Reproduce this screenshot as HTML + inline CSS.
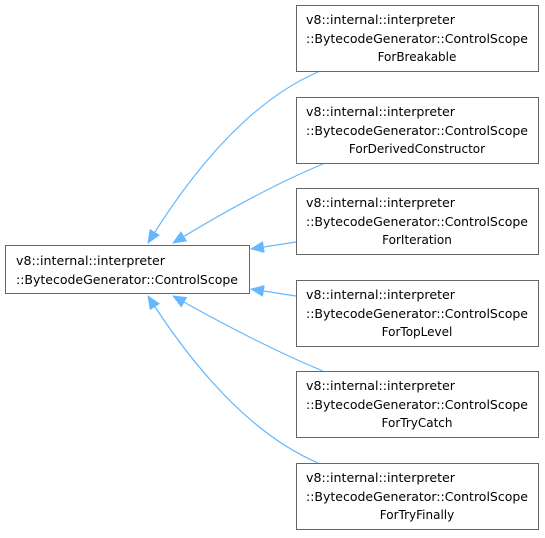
<!DOCTYPE html>
<html><head><meta charset="utf-8"><style>
html,body{margin:0;padding:0;background:#fff;width:545px;height:538px;overflow:hidden}
text{font-family:"DejaVu Sans","Liberation Sans",sans-serif;font-size:12px;fill:#000}
</style></head><body>
<svg width="545" height="538" viewBox="0 0 545 538" xmlns="http://www.w3.org/2000/svg">
<defs>
<marker id="a" markerWidth="14" markerHeight="12" refX="13" refY="6" orient="auto" markerUnits="userSpaceOnUse">
<path d="M0,0 L14,6 L0,12 Z" fill="#63b8ff"/>
</marker>
</defs>
<g fill="none" stroke="#63b8ff" stroke-width="1.2">
<path d="M318,72 Q230,110 148,243" marker-end="url(#a)"/>
<path d="M323,164 Q260,190 173,243" marker-end="url(#a)"/>
<path d="M296,242 L251,249" marker-end="url(#a)"/>
<path d="M296,296 L251,289" marker-end="url(#a)"/>
<path d="M323,371 Q260,345 173,296" marker-end="url(#a)"/>
<path d="M318,463 Q230,425 148,296" marker-end="url(#a)"/>
</g>
<g fill="#fff" stroke="#666" stroke-width="1">
<rect x="5.5" y="245.5" width="244" height="48"/>
<rect x="296.5" y="5.5" width="242" height="66"/>
<rect x="296.5" y="97.5" width="242" height="66"/>
<rect x="296.5" y="188.5" width="242" height="66"/>
<rect x="296.5" y="280.5" width="242" height="66"/>
<rect x="296.5" y="371.5" width="242" height="66"/>
<rect x="296.5" y="463.5" width="242" height="66"/>
</g>
<text x="16" y="265" textLength="149" lengthAdjust="spacingAndGlyphs">v8::internal::interpreter</text>
<text x="16" y="284" textLength="222" lengthAdjust="spacingAndGlyphs">::BytecodeGenerator::ControlScope</text>
<g>
<text x="306" y="24" textLength="149" lengthAdjust="spacingAndGlyphs">v8::internal::interpreter</text>
<text x="306" y="43" textLength="222" lengthAdjust="spacingAndGlyphs">::BytecodeGenerator::ControlScope</text>
<text x="417" y="61" text-anchor="middle">ForBreakable</text>
</g>
<g transform="translate(0,92)">
<text x="306" y="24" textLength="149" lengthAdjust="spacingAndGlyphs">v8::internal::interpreter</text>
<text x="306" y="43" textLength="222" lengthAdjust="spacingAndGlyphs">::BytecodeGenerator::ControlScope</text>
<text x="417" y="61" text-anchor="middle">ForDerivedConstructor</text>
</g>
<g transform="translate(0,183)">
<text x="306" y="24" textLength="149" lengthAdjust="spacingAndGlyphs">v8::internal::interpreter</text>
<text x="306" y="43" textLength="222" lengthAdjust="spacingAndGlyphs">::BytecodeGenerator::ControlScope</text>
<text x="417" y="61" text-anchor="middle">ForIteration</text>
</g>
<g transform="translate(0,275)">
<text x="306" y="24" textLength="149" lengthAdjust="spacingAndGlyphs">v8::internal::interpreter</text>
<text x="306" y="43" textLength="222" lengthAdjust="spacingAndGlyphs">::BytecodeGenerator::ControlScope</text>
<text x="417" y="61" text-anchor="middle">ForTopLevel</text>
</g>
<g transform="translate(0,366)">
<text x="306" y="24" textLength="149" lengthAdjust="spacingAndGlyphs">v8::internal::interpreter</text>
<text x="306" y="43" textLength="222" lengthAdjust="spacingAndGlyphs">::BytecodeGenerator::ControlScope</text>
<text x="417" y="61" text-anchor="middle">ForTryCatch</text>
</g>
<g transform="translate(0,458)">
<text x="306" y="24" textLength="149" lengthAdjust="spacingAndGlyphs">v8::internal::interpreter</text>
<text x="306" y="43" textLength="222" lengthAdjust="spacingAndGlyphs">::BytecodeGenerator::ControlScope</text>
<text x="417" y="61" text-anchor="middle">ForTryFinally</text>
</g>
</svg>
</body></html>
